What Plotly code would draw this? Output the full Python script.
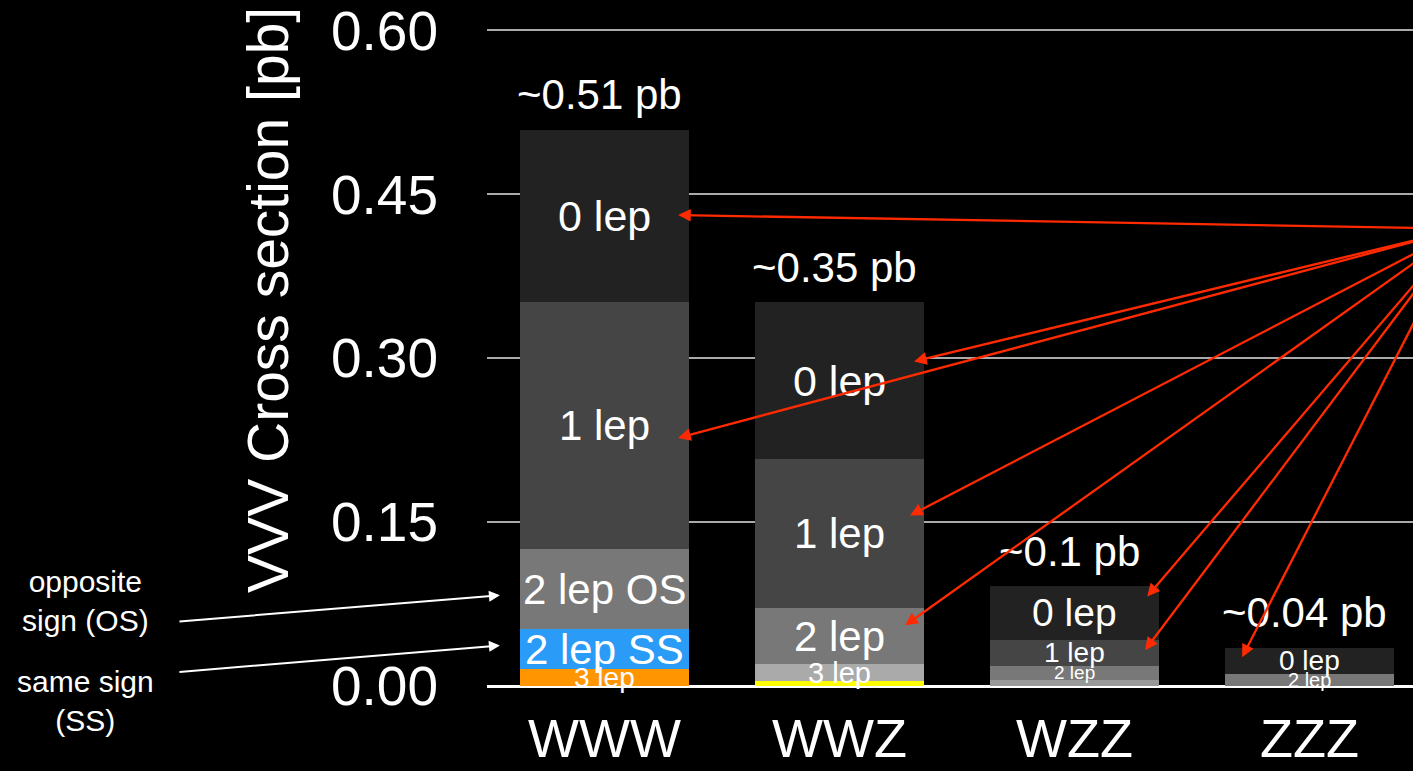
import plotly.graph_objects as go

# ---------------- data ----------------
categories = ["WWW", "WWZ", "WZZ", "ZZZ"]
four_lep = [0.0, 0.0045, 0.0, 0.0]
three_lep = [0.0155, 0.0155, 0.0055, 0.0]
two_lep_ss = [0.0365, 0.0, 0.0, 0.0]
two_lep_os = [0.073, 0.051, 0.013, 0.011]
one_lep = [0.226, 0.137, 0.024, 0.0]
zero_lep = [0.158, 0.143, 0.049, 0.024]

three_lep_labels = ["3 lep", "3 lep", "", ""]
two_lep_ss_labels = ["2 lep SS", "", "", ""]
two_lep_os_labels = ["2 lep OS", "2 lep", "2 lep", "2 lep"]
one_lep_labels = ["1 lep", "1 lep", "1 lep", ""]
zero_lep_labels = ["0 lep", "0 lep", "0 lep", "0 lep"]
total_labels = ["~0.51 pb", "~0.35 pb", "~0.1 pb", "~0.04 pb"]
y_ticks = [0.0, 0.15, 0.30, 0.45, 0.60]
y_tick_labels = ["0.00", "0.15", "0.30", "0.45", "0.60"]

# ---------------- styles ----------------
FONT = "Liberation Sans, Arial, Helvetica, sans-serif"
four_colors = ["#FFFF00"] * 4
three_colors = ["#FF9500", "#AAAAAA", "#999999", "#999999"]
ss_colors = ["#2A9BF7"] * 4
os_colors = ["#787878"] * 4
one_colors = ["#454545"] * 4
zero_colors = ["#222222"] * 4

three_sizes = [28, 29, 19, 19]
ss_sizes = [42, 42, 42, 42]
os_sizes = [42, 42, 19, 20]
one_sizes = [42, 42, 28, 28]
zero_sizes = [43, 43, 39, 28]

BAR_W = 0.72

segments = [
    (four_lep, four_colors, None, None),
    (three_lep, three_colors, three_lep_labels, three_sizes),
    (two_lep_ss, ss_colors, two_lep_ss_labels, ss_sizes),
    (two_lep_os, os_colors, two_lep_os_labels, os_sizes),
    (one_lep, one_colors, one_lep_labels, one_sizes),
    (zero_lep, zero_colors, zero_lep_labels, zero_sizes),
]

fig = go.Figure()
xs = list(range(len(categories)))
base = [0.0] * len(categories)
annotations = []
for vals, cols, labels, sizes in segments:
    fig.add_trace(go.Bar(
        x=xs, y=vals, base=list(base), width=BAR_W,
        marker=dict(color=cols, line=dict(width=0)),
        hoverinfo="skip", showlegend=False,
    ))
    for i, v in enumerate(vals):
        c = base[i] + v / 2
        if labels is not None and labels[i]:
            annotations.append(dict(
                x=xs[i], y=c, xref="x", yref="y", text=labels[i],
                showarrow=False, xanchor="center", yanchor="middle",
                font=dict(family=FONT, size=sizes[i], color="white"),
            ))
        base[i] += v

totals = base[:]
for i, t in enumerate(totals):
    annotations.append(dict(
        x=xs[i] - 0.02, y=t, xref="x", yref="y", text=total_labels[i],
        showarrow=False, xanchor="center", yanchor="middle", yshift=35,
        font=dict(family=FONT, size=42, color="white"),
    ))


def seg_center(i, vals):
    ids = [id(s[0]) for s in segments]
    k = ids.index(id(vals))
    return sum(s[0][i] for s in segments[:k]) + vals[i] / 2


# red arrows from a common origin (off to the right) to the segment labels
TAIL_X, TAIL_Y = 3.649, 0.4185
red_targets = [
    (0, zero_lep, 0.313, 0.001),
    (0, one_lep, 0.313, -0.011),
    (1, zero_lep, 0.317, 0.0175),
    (1, one_lep, 0.300, 0.0165),
    (1, two_lep_os, 0.279, 0.010),
    (2, zero_lep, 0.309, 0.015),
    (2, one_lep, 0.300, 0.0023),
    (3, zero_lep, -0.287, 0.0034),
]
for i, vals, dx, dy in red_targets:
    annotations.append(dict(
        x=xs[i] + dx, y=seg_center(i, vals) + dy, xref="x", yref="y",
        ax=TAIL_X, ay=TAIL_Y, axref="x", ayref="y", text="",
        showarrow=True, arrowhead=2, arrowsize=1.1, arrowwidth=2.3,
        arrowcolor="#FF2A00", standoff=0,
    ))

# white arrows from the left-hand notes
white_targets = [
    (0, two_lep_os, -0.445, -0.0055, -1.815, 0.059),
    (0, two_lep_ss, -0.445, 0.0034, -1.815, 0.0128),
]
for i, vals, dx, dy, tx, ty in white_targets:
    annotations.append(dict(
        x=xs[i] + dx, y=seg_center(i, vals) + dy, xref="x", yref="y",
        ax=tx, ay=ty, axref="x", ayref="y", text="",
        showarrow=True, arrowhead=2, arrowsize=1.1, arrowwidth=2,
        arrowcolor="white", standoff=0,
    ))

annotations += [
    dict(x=-0.434, y=0.129, xref="paper", yref="paper",
         xanchor="center", yanchor="middle",
         text="opposite<br>sign (OS)", showarrow=False,
         font=dict(family=FONT, size=30, color="white"), align="center"),
    dict(x=-0.434, y=-0.022, xref="paper", yref="paper",
         xanchor="center", yanchor="middle",
         text="same sign<br>(SS)", showarrow=False,
         font=dict(family=FONT, size=30, color="white"), align="center"),
    dict(x=-0.2365, y=0.585, xref="paper", yref="paper",
         xanchor="center", yanchor="middle",
         text="VVV Cross section [pb]", textangle=-90, showarrow=False,
         font=dict(family=FONT, size=57, color="white")),
]

fig.update_layout(
    width=1413, height=771,
    margin=dict(l=487, r=0, t=24, b=85, pad=0),
    paper_bgcolor="black", plot_bgcolor="black",
    barmode="overlay", bargap=0,
    font=dict(family=FONT, color="white"),
    annotations=annotations,
    showlegend=False,
)
fig.update_xaxes(
    range=[-0.5, 3.44], tickvals=xs, ticktext=categories,
    tickfont=dict(family=FONT, size=54, color="white"),
    showgrid=False, zeroline=False, showline=False, ticks="",
    ticklabelstandoff=16,
)
fig.update_yaxes(
    range=[0, 0.604], tickvals=y_ticks, ticktext=y_tick_labels,
    tickfont=dict(family=FONT, size=55, color="white"),
    showgrid=True, gridcolor="#AAAAAA", gridwidth=2,
    zeroline=True, zerolinecolor="white", zerolinewidth=3,
    showline=False, ticks="", ticklabelstandoff=48,
    ticklabeloverflow="allow",
)

fig.write_html(
    "out.html",
    config={"displayModeBar": False},
    post_script="document.body.style.margin='0';document.body.style.background='black';",
)
